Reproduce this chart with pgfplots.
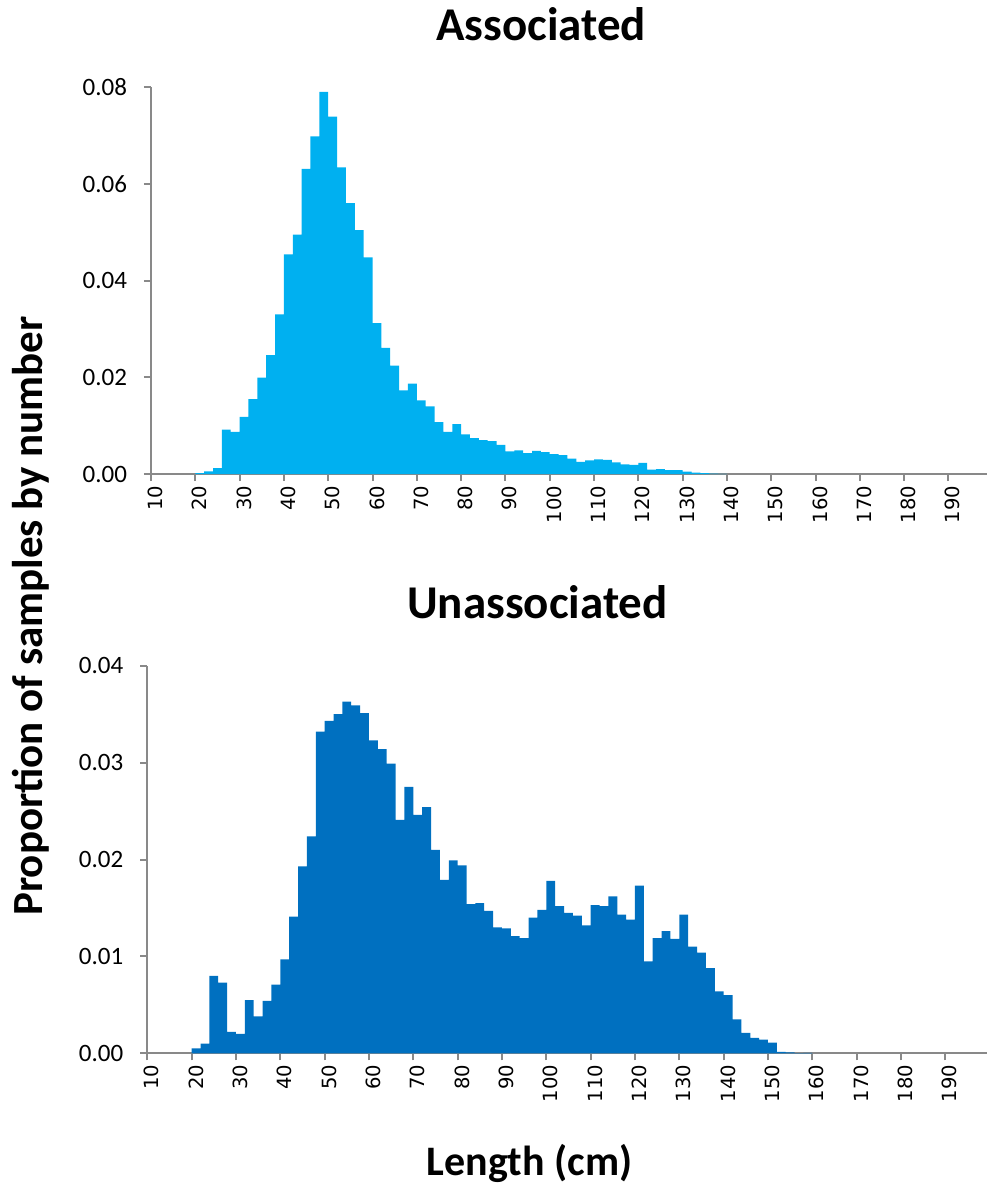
\documentclass[border=0pt]{standalone}
\usepackage{pgfplots}
\pgfplotsset{compat=1.18}
\usepackage{fontspec}
\setmainfont{Carlito}
\newfontfamily\dejavufont{DejaVu Sans}
\definecolor{assoc}{HTML}{00B0F0}
\definecolor{unassoc}{HTML}{0070C0}
\definecolor{axgray}{HTML}{898989}

\pgfplotstableread{
x y
20 0.0002
22 0.00055
24 0.0012
26 0.0092
28 0.0087
30 0.0118
32 0.0155
34 0.0199
36 0.0246
38 0.0330
40 0.0454
42 0.0495
44 0.0631
46 0.0698
48 0.0790
50 0.0739
52 0.0634
54 0.0560
56 0.0504
58 0.0448
60 0.0312
62 0.0261
64 0.0224
66 0.0173
68 0.0187
70 0.0152
72 0.0140
74 0.0107
76 0.0087
78 0.0103
80 0.0082
82 0.0074
84 0.0070
86 0.0068
88 0.0060
90 0.0047
92 0.0049
94 0.0043
96 0.0048
98 0.0045
100 0.0041
102 0.0039
104 0.0032
106 0.0025
108 0.0028
110 0.0030
112 0.0029
114 0.0024
116 0.0020
118 0.0019
120 0.0023
122 0.0009
124 0.0010
126 0.0008
128 0.0008
130 0.0005
132 0.0003
134 0.0002
136 0.0001
138 0.00005
140 0
}\assoctable

\pgfplotstableread{
x y
20 0.0005
22 0.0010
24 0.0080
26 0.0073
28 0.0022
30 0.0020
32 0.0055
34 0.0038
36 0.0054
38 0.0071
40 0.0097
42 0.0141
44 0.0193
46 0.0224
48 0.0332
50 0.0343
52 0.0350
54 0.0363
56 0.0359
58 0.0351
60 0.0323
62 0.0314
64 0.0299
66 0.0241
68 0.0275
70 0.0246
72 0.0254
74 0.0210
76 0.0179
78 0.0199
80 0.0194
82 0.0154
84 0.0155
86 0.0147
88 0.0130
90 0.0129
92 0.0121
94 0.0119
96 0.0140
98 0.0148
100 0.0178
102 0.0152
104 0.0145
106 0.0142
108 0.0132
110 0.0153
112 0.0152
114 0.0162
116 0.0143
118 0.0138
120 0.0173
122 0.0095
124 0.0119
126 0.0126
128 0.0118
130 0.0143
132 0.0110
134 0.0104
136 0.0088
138 0.0064
140 0.0060
142 0.0035
144 0.0021
146 0.0016
148 0.0014
150 0.0011
152 0.00014
154 0.0001
156 0.00003
158 0.00005
160 0
}\unassoctable

\pgfplotsset{
  histo/.style={
    scale only axis,
    axis lines*=left,
    axis line style={draw=axgray, line width=1pt},
    tick style={draw=axgray, line width=1pt},
    tick align=outside,
    major tick length=3.5pt,
    xmin=10,
    xtick={10,20,...,190},
    xticklabels={10,20,30,40,50,60,70,80,90,100,110,120,130,140,150,160,170,180,190},
    ymin=0,
    scaled y ticks=false,
    /pgf/number format/assume math mode=true,
    yticklabel style={/pgf/number format/fixed,
      /pgf/number format/fixed zerofill,
      /pgf/number format/precision=2,
      font=\fontsize{12.5}{15}\selectfont, xshift=-5pt},
    xticklabel style={font=\dejavufont\fontsize{9.8}{11}\selectfont,
      xshift=2.2pt, yshift=1.2pt, rotate=90, anchor=east},
  }
}

\begin{document}
\begin{tikzpicture}
\path[use as bounding box] (0,0) rectangle (493.5pt,-594.5pt);

\begin{axis}[histo, at={(75.5pt,-237pt)}, anchor=south west,
  width=418pt, height=193.5pt, xmax=198.7, ymax=0.08,
  ytick={0,0.02,0.04,0.06,0.08}]
\addplot[const plot, fill=assoc, draw=none] table[x=x,y=y] {\assoctable} \closedcycle;
\end{axis}

\begin{axis}[histo, at={(73.65pt,-526.65pt)}, anchor=south west,
  width=419.85pt, height=193.8pt, xmax=199.4, ymax=0.04,
  ytick={0,0.01,0.02,0.03,0.04}]
\addplot[const plot, fill=unassoc, draw=none] table[x=x,y=y] {\unassoctable} \closedcycle;
\end{axis}

\node[anchor=base, font=\fontsize{23.5}{28}\selectfont\bfseries] at (270.5pt,-20pt) {Associated};
\node[anchor=base, font=\fontsize{23.5}{28}\selectfont\bfseries] at (268.75pt,-309pt) {Unassociated};
\node[anchor=base, font=\fontsize{21}{25}\selectfont\bfseries] at (264.75pt,-587.5pt) {Length (cm)};
\node[rotate=90, anchor=base, font=\fontsize{21.5}{25}\selectfont\bfseries] at (21pt,-308pt) {Proportion of samples by number};
\end{tikzpicture}
\end{document}
